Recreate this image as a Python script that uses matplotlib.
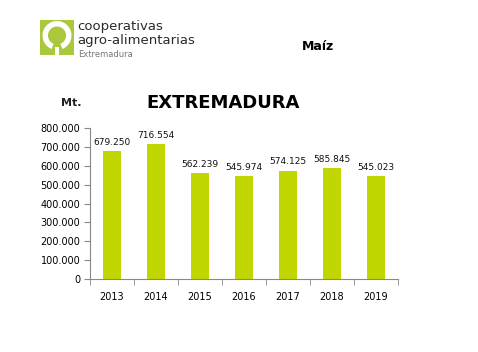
import matplotlib.pyplot as plt
from matplotlib.patches import Rectangle, Wedge
from matplotlib.ticker import FuncFormatter

# produccion de maiz en Extremadura (t)
years = ["2013", "2014", "2015", "2016", "2017", "2018", "2019"]
values = [679250, 716554, 562239, 545974, 574125, 585845, 545023]
labels = ["679.250", "716.554", "562.239", "545.974", "574.125", "585.845", "545.023"]
yticks = [0, 100000, 200000, 300000, 400000, 500000, 600000, 700000, 800000]

W, H = 478, 352
fig = plt.figure(figsize=(W / 100, H / 100), dpi=100)
fig.patch.set_facecolor("white")

def fx(px):
    return px / W

def fy(py):
    return 1 - py / H

# logo
logo_green = "#a9c83c"
ax_logo = fig.add_axes([fx(40), fy(55), fx(34), 35 / H])
ax_logo.set_xlim(0, 34)
ax_logo.set_ylim(0, 35)
ax_logo.axis("off")
ax_logo.add_patch(Rectangle((0, 0), 34, 35, facecolor=logo_green, edgecolor="none"))
ax_logo.add_patch(Wedge((17, 19.5), 14.5, -68, 248, width=5.5, facecolor="white", edgecolor="none"))
ax_logo.add_patch(Rectangle((15, 0), 4, 8, facecolor="white", edgecolor="none"))

fig.text(fx(77), fy(30), "cooperativas", fontsize=9.5, color="#2b2b2b", va="baseline")
fig.text(fx(77), fy(44), "agro-alimentarias", fontsize=9.5, color="#2b2b2b", va="baseline")
fig.text(fx(78), fy(57), "Extremadura", fontsize=6, color="#777777", va="baseline")

fig.text(fx(318), fy(47), "Maíz", fontsize=9, fontweight="bold", ha="center", va="center")
fig.text(fx(71), fy(103), "Mt.", fontsize=8, fontweight="bold", ha="center", va="center",
         color="#222222")
fig.text(fx(223), fy(103), "EXTREMADURA", fontsize=13, fontweight="bold", ha="center",
         va="center")

ax = fig.add_axes([fx(90), fy(279), fx(308), 151 / H])
x = range(len(years))
ax.bar(x, values, width=0.42, color="#c0d600")
for xi, v, lab in zip(x, values, labels):
    ax.text(xi, v + 22000, lab, ha="center", va="bottom", fontsize=6.5, color="#111111")

ax.set_xlim(-0.5, len(years) - 0.5)
ax.set_ylim(0, 800000)
ax.set_yticks(yticks)
ax.yaxis.set_major_formatter(FuncFormatter(lambda v, p: f"{int(v):,}".replace(",", ".")))
ax.set_xticks(list(x))
ax.set_xticklabels(years)
ax.set_xticks([i - 0.5 for i in range(len(years) + 1)], minor=True)
ax.tick_params(axis="x", which="major", length=0, pad=9, labelsize=7)
ax.tick_params(axis="x", which="minor", length=4, color="#888888", direction="out")
ax.tick_params(axis="y", length=4, color="#888888", labelsize=7, pad=3)
for s in ["top", "right"]:
    ax.spines[s].set_visible(False)
for s in ["left", "bottom"]:
    ax.spines[s].set_color("#888888")
    ax.spines[s].set_linewidth(0.8)

fig.savefig("out.png", dpi=100)
